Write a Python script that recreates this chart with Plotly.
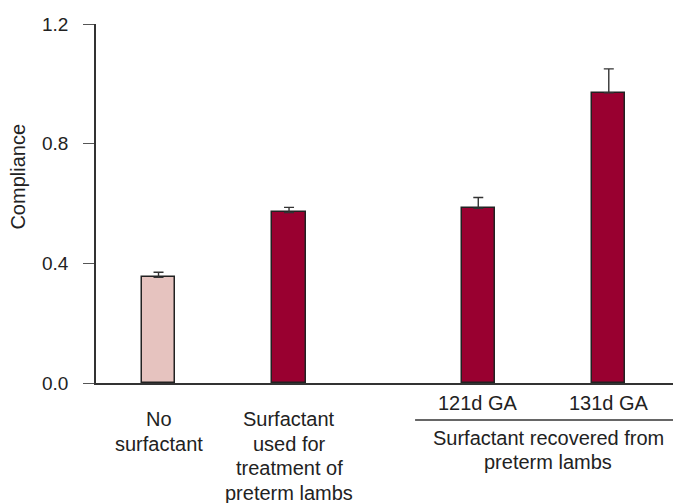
import plotly.graph_objects as go

# Group positions along the x axis and their labels
positions = [1, 2, 3.45, 4.45]
labels = [["No", "surfactant"],
          ["Surfactant", "used for", "treatment of", "preterm lambs"],
          ["121d GA"],
          ["131d GA"]]
compliance = [0.353, 0.570, 0.584, 0.970]
sem = [0.017, 0.017, 0.036, 0.080]
bar_colors = ["#E6C3BF", "#990030", "#990030", "#990030"]
group_label = ["Surfactant recovered from", "preterm lambs"]
y_ticks = [0.0, 0.4, 0.8, 1.2]

FONT = "Liberation Sans, Arial, sans-serif"
TEXT = "#222222"

# Pixel geometry of the plotting area (used to place text lines below the axis)
MARGIN_T, MARGIN_B, HEIGHT = 24, 120, 503
PLOT_H = HEIGHT - MARGIN_T - MARGIN_B


def paper_y(px):
    """Convert a pixel row (from the top of the figure) to paper y."""
    return (HEIGHT - MARGIN_B - px) / PLOT_H


fig = go.Figure()
fig.add_trace(go.Bar(
    x=positions, y=compliance, width=0.255,
    marker=dict(color=bar_colors, line=dict(color="#222222", width=1.5)),
    error_y=dict(type="data", symmetric=False, array=sem,
                 arrayminus=[0] * len(sem), color="#333333",
                 thickness=1.4, width=5),
    showlegend=False,
))

annotations = []


def add_lines(x, lines, first_px, step=24.5):
    for i, line in enumerate(lines):
        annotations.append(dict(x=x, xref="x", y=paper_y(first_px + i * step),
                                yref="paper", xanchor="center",
                                yanchor="middle", text=line, showarrow=False,
                                font=dict(family=FONT, size=20, color=TEXT)))


# Category labels below the bars
first_rows = [419, 419, 403, 403]
for xp, lines, row in zip(positions, labels, first_rows):
    add_lines(xp, lines, row)
# Group label under the two gestational-age bars
add_lines(3.985, group_label, 438, step=23.5)

# Y axis title
annotations.append(dict(x=0, xref="paper", xshift=-78, y=0.69, yref="y",
                        xanchor="center", yanchor="middle", text="Compliance",
                        textangle=-90, showarrow=False,
                        font=dict(family=FONT, size=20, color=TEXT)))

fig.update_layout(
    width=673, height=HEIGHT,
    margin=dict(l=96, r=0, t=MARGIN_T, b=MARGIN_B),
    paper_bgcolor="white", plot_bgcolor="white",
    font=dict(family=FONT, size=19, color=TEXT),
    annotations=annotations,
    shapes=[dict(type="line", xref="paper", yref="paper",
                 x0=0.553, x1=1.0, y0=paper_y(420), y1=paper_y(420),
                 line=dict(color="#333333", width=1.3))],
    xaxis=dict(range=[0.521, 4.942], showticklabels=False, ticks="",
               showgrid=False, zeroline=False, showline=True,
               linecolor="#333333", linewidth=1.5),
    yaxis=dict(range=[0, 1.2], tickvals=y_ticks,
               ticktext=[f"{v:.1f}" for v in y_ticks],
               ticks="outside", ticklen=11, tickwidth=1.3, tickcolor="#555555",
               ticklabelstandoff=11,
               showgrid=False, zeroline=False, showline=True,
               linecolor="#333333", linewidth=1.5),
    bargap=0,
)

fig.write_html("out.html")
